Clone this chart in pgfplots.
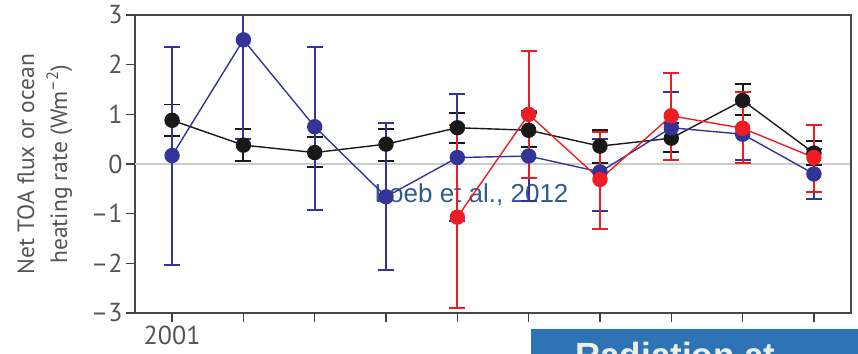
\documentclass[border=0pt]{standalone}
\usepackage{fontspec}
\setmainfont{PT Sans}
\newfontfamily\arialf{Liberation Sans}
\usepackage{pgfplots}
\pgfplotsset{compat=1.18}
\usepackage{pgfplotstable}
\definecolor{cblue}{RGB}{52,52,152}
\definecolor{cred}{RGB}{238,29,37}
\definecolor{cblack}{RGB}{25,25,25}
\definecolor{lbl}{RGB}{85,85,85}
\definecolor{loeb}{RGB}{47,91,143}
\definecolor{boxblue}{RGB}{46,116,181}
\definecolor{boxtext}{RGB}{236,240,226}
\definecolor{axframe}{RGB}{70,70,70}

% columns: year, value, error plus, error minus
\pgfplotstableread{
x y ep em
2001 0.88 0.32 0.32
2002 0.38 0.32 0.32
2003 0.23 0.31 0.29
2004 0.40 0.31 0.34
2005 0.73 0.29 0.31
2006 0.68 0.35 0.34
2007 0.36 0.32 0.34
2008 0.52 0.30 0.28
2009 1.28 0.33 0.29
2010 0.22 0.24 0.24
}\tblack
\pgfplotstableread{
x y ep em
2001 0.17 2.19 2.20
2002 2.50 2.00 2.00
2003 0.75 1.61 1.68
2004 -0.66 1.48 1.48
2005 0.13 1.28 1.28
2006 0.16 0.91 0.91
2007 -0.16 0.66 0.79
2008 0.73 0.72 0.65
2009 0.60 0.60 0.52
2010 -0.20 0.51 0.50
}\tblue
\pgfplotstableread{
x y ep em
2005 -1.07 1.85 1.83
2006 1.00 1.27 1.28
2007 -0.31 0.95 1.00
2008 0.97 0.86 0.89
2009 0.72 0.73 0.70
2010 0.13 0.65 0.69
}\tred

\pgfplotsset{
  errstyle/.style={error bars/.cd, y dir=both, y explicit,
    error bar style={line width=1.8pt, solid},
    error mark options={rotate=90, mark size=8pt, line width=1.8pt, solid}},
}

\begin{document}
\begin{tikzpicture}
\useasboundingbox (-135pt,-40pt) rectangle (723pt,313pt);
\begin{axis}[
  name=ax,
  scale only axis,
  width=716pt, height=298pt,
  xmin=2000.48, xmax=2010.52,
  ymin=-3, ymax=3,
  xtick={2001,2002,2003,2004,2005,2006,2007,2008,2009,2010},
  xticklabels={2001,{},{},{},{},{},{},{},{},{}},
  ytick={-3,-2,-1,0,1,2,3},
  yticklabels={--3,--2,--1,0,1,2,3},
  xtick pos=bottom, ytick pos=left,
  tick align=outside,
  major tick length=9pt,
  tick style={line width=1.3pt, color=black!75},
  axis line style={line width=2.5pt, draw=axframe},
  ticklabel style={font=\fontsize{26}{28}\selectfont, text=lbl},
  ylabel={Net TOA flux or ocean\\heating rate (Wm\textsuperscript{--2})},
  every axis y label/.style={at={(axis description cs:-0.126,0.5)}, rotate=90, anchor=center, align=center,
     font=\fontsize{23.5}{33}\selectfont, text=lbl},
  clip=true,
]
\node[font=\arialf\fontsize{26}{28}\selectfont, text=loeb] at (axis cs:2005.2,-0.62) {Loeb et al., 2012};
\addplot[draw=black!20, line width=1.3pt, forget plot] coordinates {(2000.48,0) (2010.52,0)};
\addplot[color=cblack, line width=1.4pt, mark=*, mark size=7pt, errstyle]
  table[x=x, y=y, y error plus=ep, y error minus=em] {\tblack};
\addplot[color=cblue, line width=1.4pt, mark=*, mark size=7pt, errstyle]
  table[x=x, y=y, y error plus=ep, y error minus=em] {\tblue};
\addplot[color=cred, line width=1.4pt, mark=*, mark size=7pt, errstyle]
  table[x=x, y=y, y error plus=ep, y error minus=em] {\tred};
\end{axis}
\draw[line width=2.5pt, draw=axframe] (ax.north west) -- (ax.north east) -- (ax.south east);
\fill[boxblue] (396pt,-16pt) rectangle (730pt,-50pt);
\node[anchor=base west, inner sep=0pt, font=\arialf\bfseries\fontsize{35}{40}\selectfont, text=boxtext] at (440pt,-54pt) {Radiation at};
\end{tikzpicture}
\end{document}
